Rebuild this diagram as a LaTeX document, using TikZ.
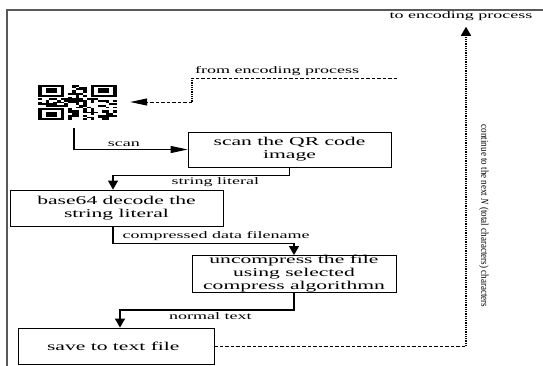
\documentclass[tikz,border=0pt]{standalone}
\usepackage{fontspec}
\setmainfont{Liberation Serif}
\newfontfamily\wideserif[FakeStretch=1.8]{Liberation Serif}
\newfontfamily\slimserif[FakeStretch=0.86]{Liberation Serif}
\usepackage{tikz}
\usetikzlibrary{arrows.meta}

\begin{document}
\begin{tikzpicture}[x=1pt, y=-1pt,
  stepbox/.style={draw, line width=0.8pt, inner sep=0pt, align=center,
    font=\wideserif\fontsize{12}{13}\selectfont},
  edgetext/.style={inner sep=2pt, font=\wideserif\fontsize{10}{12}\selectfont},
  flow/.style={line width=1.2pt},
  hdash/.style={line width=1pt, dash pattern=on 3.5pt off 2pt},
  vdot/.style={line width=1.6pt, dash pattern=on 1pt off 0.8pt},
  htip/.style={-{Triangle[length=17pt, width=7pt]}},
  vtip/.style={-{Triangle[length=9pt, width=10pt]}}]

  \useasboundingbox (0,0) rectangle (543,365);
  \draw[line width=2pt, black!65] (7,366) -- (7,10) -- (544,10);

  \node at (77.5,103) (qr) [minimum width=105pt, minimum height=50pt, inner sep=0pt] {};
  \begin{scope}[shift={(38,85)}, x=3.76pt, y=-1.67pt]
    \pgfmathsetseed{11}
    \foreach \r in {0,...,20} {
      \foreach \c in {0,...,20} {
        \pgfmathtruncatemacro{\infinder}{or(or(and(\r<8,\c<8),and(\r<8,\c>12)),and(\r>12,\c<8))}
        \pgfmathtruncatemacro{\bit}{rnd>0.5}
        \ifnum\infinder=0 \ifnum\bit=1 \fill (\c,\r) rectangle ++(1,1); \fi\fi
      }
    }
    \foreach \c/\r in {0/0, 14/0, 0/14} {
      \fill (\c,\r) rectangle ++(7,7);
      \fill[white] (\c+1,\r+1) rectangle ++(5,5);
      \fill (\c+2,\r+2) rectangle ++(3,3);
    }
  \end{scope}

  \node at (289.5,149.5) (scan) [stepbox, minimum width=203pt, minimum height=35pt] { scan the QR code\\ image };
  \node at (116.5,208) (decode) [stepbox, minimum width=213pt, minimum height=36pt] { base64 decode the\\ string literal };
  \node at (294,274) (unzip) [stepbox, minimum width=204pt, minimum height=34pt] { uncompress the file\\ using selected\\ compress algorithmn };
  \node at (116,346) (save) [stepbox, minimum width=196pt, minimum height=36pt] { save to text file };

  \draw[flow, htip] ([xshift=-3.5pt]qr.south) |- node[pos=0.72, above, edgetext] {scan} (scan.west);
  \draw[flow, vtip] (scan.south) -- ++(0,8) -| node[pos=0.21, below, edgetext] {string literal} ([xshift=-3.5pt]decode.north);
  \draw[flow, vtip] ([xshift=-3.5pt]decode.south) -- ++(0,17) -| node[pos=0.285, above, edgetext] {compressed data filename} (unzip.north);
  \draw[flow, vtip] (unzip.south) -- ++(0,17) -| node[pos=0.24, below, edgetext] {normal text} ([xshift=4pt]save.north);

  \coordinate (fromstart) at (397,78);
  \coordinate (frombend) at (192,78);
  \coordinate (fromdrop) at (192,102);
  \draw[hdash] (fromstart) -- node[pos=0.585, above, edgetext] {from encoding process} (frombend);
  \draw[vdot] (frombend) -- (fromdrop);
  \draw[hdash, htip] (fromdrop) -- (fromdrop -| qr.east);

  \coordinate (backturn) at (466,346);
  \node at (461,16) (toenc) [edgetext] {to encoding process};
  \draw[hdash] (save.east) -- (backturn);
  \draw[vdot, vtip, shorten >=4pt] (backturn) -- (backturn |- toenc.south);
  \node at (484,216) (sidenote) [rotate=-90, inner sep=0pt, font=\slimserif\fontsize{10.5}{12}\selectfont] {continue to the next \textit{N} (total characters) characters};
\end{tikzpicture}
\end{document}
